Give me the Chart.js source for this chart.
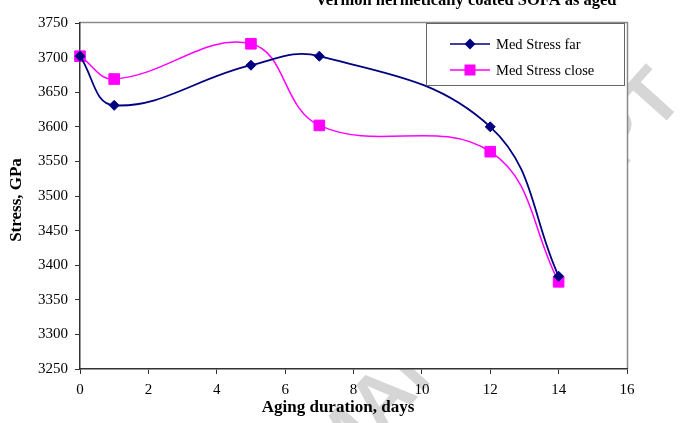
<!DOCTYPE html>
<html>
<head>
<meta charset="utf-8">
<script src="https://cdn.jsdelivr.net/npm/chart.js@4.4.1/dist/chart.umd.min.js"></script>
<style>
  html, body { margin: 0; padding: 0; background: #fff; }
  #wrap { width: 694px; height: 423px; }
</style>
</head>
<body>
<div id="wrap"><canvas id="chart" width="694" height="423"></canvas></div>
<script>
// values
const days = [0, 1, 5, 7, 12, 14];
const farStress = [3702, 3631, 3689, 3702, 3600, 3384];
const closeStress = [3702, 3669, 3720, 3602, 3564, 3376];
const seriesNames = ["Med Stress far", "Med Stress close"];
const seriesColors = ["#000080", "#FF00FF"];
const chartTitle = "Vermon hermetically coated SOFA as aged";
const xTitle = "Aging duration, days";
const yTitle = "Stress, GPa";

const serif = "'Liberation Serif', 'Times New Roman', serif";

const toPoints = (vals) => days.map((d, i) => ({ x: d, y: vals[i] }));

// background, watermark, plot box, titles and legend
const paper = {
  id: "paper",
  beforeDraw(chart) {
    const { ctx, chartArea: a } = chart;
    ctx.save();
    ctx.fillStyle = "#fff";
    ctx.fillRect(0, 0, chart.width, chart.height);

    ctx.translate(386, 400);
    ctx.rotate(-48 * Math.PI / 180);
    ctx.font = "bold 78px 'Liberation Sans', Arial, sans-serif";
    ctx.fillStyle = "#d6d6d6";
    ctx.textBaseline = "middle";
    ctx.textAlign = "left";
    ctx.fillText("MANUSCRIPT", -95, 0);
    ctx.textAlign = "right";
    ctx.fillText("ACCEPTED ", -95, 0);
    ctx.restore();

    ctx.save();
    ctx.fillStyle = "#fff";
    ctx.fillRect(a.left, a.top, a.right - a.left, a.bottom - a.top);
    ctx.strokeStyle = "#8a8a8a";
    ctx.lineWidth = 1.5;
    ctx.beginPath();
    ctx.moveTo(a.left, a.top - 0.5);
    ctx.lineTo(a.right + 0.5, a.top - 0.5);
    ctx.lineTo(a.right + 0.5, a.bottom);
    ctx.stroke();
    ctx.restore();
  },
  afterDraw(chart) {
    const { ctx } = chart;
    ctx.save();
    ctx.fillStyle = "#000";
    ctx.font = "bold 16.5px " + serif;
    ctx.textAlign = "center";
    ctx.textBaseline = "alphabetic";
    ctx.fillText(chartTitle, 466, 5);

    ctx.font = "bold 17px " + serif;
    ctx.textBaseline = "middle";
    ctx.fillText(xTitle, 338, 408);
    ctx.save();
    ctx.translate(17, 200);
    ctx.rotate(-Math.PI / 2);
    ctx.fillText(yTitle, 0, 0);
    ctx.restore();

    // legend
    ctx.fillStyle = "#fff";
    ctx.fillRect(426, 23, 198, 62);
    ctx.strokeStyle = "#666";
    ctx.lineWidth = 1;
    ctx.strokeRect(426.5, 23.5, 198, 62);
    const rows = [44, 70];
    chart.data.datasets.forEach((ds, i) => {
      const y = rows[i];
      ctx.strokeStyle = ds.borderColor;
      ctx.lineWidth = 1.5;
      ctx.beginPath();
      ctx.moveTo(450, y);
      ctx.lineTo(490, y);
      ctx.stroke();
      ctx.fillStyle = ds.backgroundColor;
      ctx.beginPath();
      if (ds.pointStyle === "rectRot") {
        ctx.moveTo(470, y - 5.5);
        ctx.lineTo(475.5, y);
        ctx.lineTo(470, y + 5.5);
        ctx.lineTo(464.5, y);
        ctx.closePath();
      } else {
        ctx.rect(464.5, y - 5.5, 11, 11);
      }
      ctx.fill();
      ctx.fillStyle = "#000";
      ctx.font = "14.5px " + serif;
      ctx.textAlign = "left";
      ctx.fillText(ds.label, 496, y + 1);
    });
    ctx.restore();
  },
};

new Chart(document.getElementById("chart"), {
  type: "line",
  data: {
    datasets: [
      {
        label: seriesNames[0],
        data: toPoints(farStress),
        borderColor: seriesColors[0],
        backgroundColor: seriesColors[0],
        pointStyle: "rectRot",
        pointRadius: 5,
        pointBorderWidth: 1,
        borderWidth: 1.8,
        tension: 0.4,
        clip: false,
      },
      {
        label: seriesNames[1],
        data: toPoints(closeStress),
        borderColor: seriesColors[1],
        backgroundColor: seriesColors[1],
        pointStyle: "rect",
        pointRadius: 7.5,
        pointBorderWidth: 1,
        borderWidth: 1.5,
        tension: 0.4,
        clip: false,
      },
    ],
  },
  options: {
    responsive: false,
    animation: false,
    devicePixelRatio: 1,
    layout: { padding: { top: 23, right: 67, left: 0, bottom: 0 } },
    plugins: {
      legend: { display: false },
      tooltip: { enabled: false },
    },
    scales: {
      x: {
        type: "linear",
        min: 0,
        max: 16,
        ticks: { stepSize: 2, color: "#000", font: { family: serif, size: 15 }, padding: 7 },
        grid: { drawOnChartArea: false, tickLength: 5, color: "#333" },
        border: { color: "#333", width: 1.5 },
        afterFit: (scale) => { scale.height = 54; },
      },
      y: {
        min: 3250,
        max: 3750,
        ticks: {
          stepSize: 50,
          color: "#000",
          font: { family: serif, size: 15 },
          padding: 7,
          callback: (v) => String(v),
        },
        grid: { drawOnChartArea: false, tickLength: 5, color: "#333" },
        border: { color: "#333", width: 1.5 },
        afterFit: (scale) => { scale.width = 80; },
      },
    },
  },
  plugins: [paper],
});
</script>
</body>
</html>
